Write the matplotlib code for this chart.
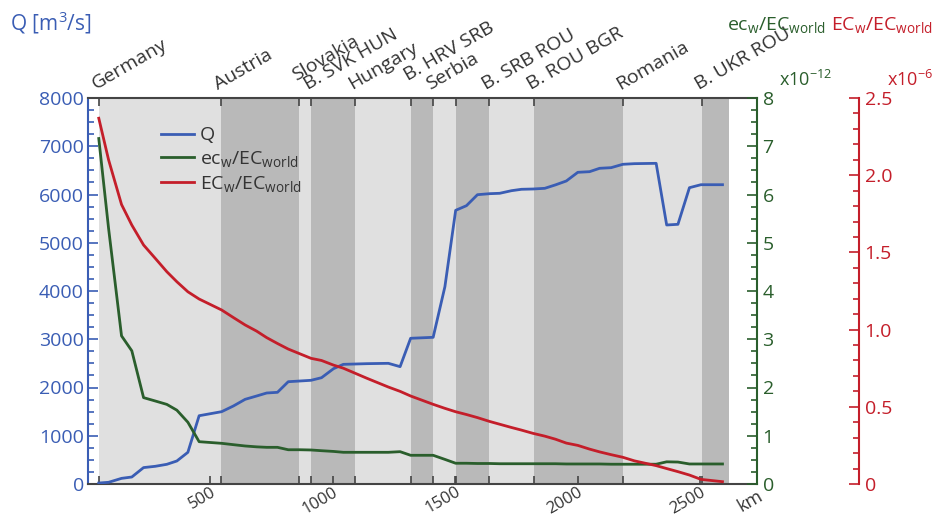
import matplotlib.pyplot as plt
from matplotlib.ticker import MultipleLocator, FixedLocator

plt.rcParams['font.family'] = ['Open Sans', 'DejaVu Sans']
plt.rcParams['mathtext.fontset'] = 'custom'
plt.rcParams['mathtext.rm'] = 'Open Sans'
plt.rcParams['mathtext.it'] = 'Open Sans:italic'
plt.rcParams['mathtext.bf'] = 'Open Sans:bold'

# river km along the Danube
km = [44, 84, 137, 179, 227, 275, 322, 363, 408, 454, 546, 594, 642, 689, 730,
      774, 818, 866, 911, 954, 1003, 1043, 1139, 1227, 1275, 1318, 1410, 1458,
      1502, 1546, 1591, 1641, 1682, 1730, 1771, 1818, 1866, 1910, 1954, 2001,
      2049, 2090, 2137, 2185, 2232, 2321, 2364, 2410, 2457, 2504, 2592]
# discharge Q [m3/s]
q = [20, 35, 117, 145, 340, 367, 408, 477, 657, 1415, 1499, 1617, 1755, 1824,
     1886, 1900, 2120, 2135, 2149, 2203, 2390, 2480, 2494, 2501, 2432, 3020,
     3040, 4089, 5672, 5768, 5996, 6017, 6025, 6079, 6108, 6114, 6128, 6200,
     6280, 6460, 6473, 6543, 6556, 6626, 6639, 6646, 5368, 5382, 6141, 6203, 6203]
# ec_w/EC_world  (x1e-12)
ec_w = [7.16, 5.3, 3.07, 2.76, 1.79, 1.72, 1.65, 1.53, 1.28, 0.877, 0.843, 0.815,
        0.788, 0.77, 0.76, 0.76, 0.71, 0.71, 0.705, 0.69, 0.675, 0.657, 0.657,
        0.657, 0.67, 0.595, 0.595, 0.51, 0.43, 0.43, 0.425, 0.425, 0.42, 0.42,
        0.42, 0.42, 0.42, 0.42, 0.415, 0.415, 0.415, 0.415, 0.41, 0.41, 0.41,
        0.41, 0.46, 0.455, 0.415, 0.415, 0.415]
# EC_w/EC_world  (x1e-6)
EC_w = [2.369, 2.10, 1.81, 1.677, 1.548, 1.461, 1.375, 1.31, 1.245, 1.198,
        1.127, 1.078, 1.03, 0.99, 0.948, 0.91, 0.874, 0.843, 0.814, 0.80, 0.77,
        0.75, 0.685, 0.628, 0.60, 0.57, 0.516, 0.49, 0.468, 0.45, 0.43, 0.405,
        0.387, 0.366, 0.349, 0.328, 0.31, 0.29, 0.265, 0.25, 0.226, 0.208, 0.19,
        0.173, 0.15, 0.119, 0.10, 0.08, 0.058, 0.03, 0.015]

# country / border stretches (km)
borders = [43, 545, 863, 912, 1092, 1320, 1410, 1504, 1639, 1822, 2186, 2508, 2618]
label_km = [43, 545, 863, 912, 1092, 1320, 1410, 1639, 1822, 2186, 2508]
labels = ['Germany', 'Austria', 'Slovakia', 'B. SVK HUN', 'Hungary', 'B. HRV SRB',
          'Serbia', 'B. SRB ROU', 'B. ROU BGR', 'Romania', 'B. UKR ROU']
raised = ['Slovakia', 'B. HRV SRB']

blue = '#3a5db4'
green = '#2a5e2c'
red = '#c41e2a'
grey = '#444444'
txt = '#333333'

fig = plt.figure(figsize=(9.37, 5.2), dpi=100)
ax = fig.add_axes([88 / 937, 1 - 484 / 520, 669 / 937, 386 / 520])
ax2 = ax.twinx()
ax3 = ax.twinx()

for i in range(len(borders) - 1):
    c = '#e0e0e0' if i % 2 == 0 else '#b9b9b9'
    ax.axvspan(borders[i], borders[i + 1], color=c, lw=0, zorder=0)

l1, = ax.plot(km, q, color=blue, lw=2, zorder=3)
l2, = ax2.plot(km, ec_w, color=green, lw=2)
l3, = ax3.plot(km, EC_w, color=red, lw=2)

ax.set_xlim(0, 2733)
ax.set_ylim(0, 8000)
ax2.set_ylim(0, 8)
ax3.set_ylim(0, 2.5)

# x axis
ax.xaxis.set_major_locator(FixedLocator([500, 1000, 1500, 2000, 2500]))
ax.xaxis.set_minor_locator(FixedLocator(borders[:-1]))
ax.set_xticklabels(['500', '1000', '1500', '2000', '2500'], rotation=30,
                   ha='right', va='top', rotation_mode='anchor', color=txt, fontsize=12)
ax.tick_params(axis='x', which='both', direction='in', length=6, width=1.2,
               color=grey, pad=0)
ax.tick_params(axis='x', which='minor', top=True)
ax.annotate('km', xy=(1.0, 0), xycoords='axes fraction', xytext=(0, -3),
            textcoords='offset pixels', rotation=30, rotation_mode='anchor',
            ha='right', va='top', fontsize=13, color=txt)
for k, t in zip(label_km, labels):
    dy = 17 if t in raised else 8
    ax.annotate(t, xy=(k, 1), xycoords=('data', 'axes fraction'), xytext=(-3, dy),
                textcoords='offset pixels', rotation=30, rotation_mode='anchor',
                ha='left', va='baseline', fontsize=14, color=txt)

# left axis (Q)
ax.yaxis.set_major_locator(MultipleLocator(1000))
ax.yaxis.set_minor_locator(MultipleLocator(250))
ax.tick_params(axis='y', which='both', direction='in', color=blue, labelcolor=blue,
               labelsize=14, width=1.2, pad=3)
ax.tick_params(axis='y', which='major', length=7)
ax.tick_params(axis='y', which='minor', length=4)
ax.spines['left'].set_color(blue)
ax.spines['left'].set_linewidth(1.5)
for s in ['top', 'bottom']:
    ax.spines[s].set_color(grey)
    ax.spines[s].set_linewidth(1.5)
ax.spines['right'].set_visible(False)

# green axis
ax2.yaxis.set_major_locator(MultipleLocator(1))
ax2.yaxis.set_minor_locator(MultipleLocator(0.25))
ax2.tick_params(axis='y', which='both', direction='in', color=green,
                labelcolor=green, labelsize=14, width=1.2, pad=4)
ax2.tick_params(axis='y', which='major', length=7)
ax2.tick_params(axis='y', which='minor', length=4)
ax2.spines['right'].set_color(green)
ax2.spines['right'].set_linewidth(1.5)
for s in ['top', 'bottom', 'left']:
    ax2.spines[s].set_visible(False)

# red axis
ax3.spines['right'].set_position(('axes', (859 - 88) / 669))
ax3.yaxis.set_minor_locator(MultipleLocator(0.1))
ax3.set_yticks([0, 0.5, 1.0, 1.5, 2.0, 2.5])
ax3.set_yticklabels(['0', '0.5', '1.0', '1.5', '2.0', '2.5'])
ax3.tick_params(axis='y', which='both', direction='in', color=red,
                labelcolor=red, labelsize=14, width=1.2, pad=4)
ax3.tick_params(axis='y', which='major', length=7)
ax3.tick_params(axis='y', which='minor', length=4)
ax3.spines['right'].set_color(red)
ax3.spines['right'].set_linewidth(1.5)
for s in ['top', 'bottom', 'left']:
    ax3.spines[s].set_visible(False)

# titles over the axes
fig.text(10 / 937, 1 - 30 / 520, 'Q [m$^3$/s]', color=blue, fontsize=15, va='baseline')
fig.text(727 / 937, 1 - 30 / 520, 'ec$_\\mathregular{w}$/EC$_\\mathregular{world}$',
         color=green, fontsize=14, va='baseline')
fig.text(0.996, 1 - 30 / 520, 'EC$_\\mathregular{w}$/EC$_\\mathregular{world}$',
         color=red, fontsize=14, va='baseline', ha='right')
fig.text(779 / 937, 1 - 86 / 520, 'x10$^{-12}$', color=green, fontsize=13, va='baseline')
fig.text(0.996, 1 - 86 / 520, 'x10$^{-6}$', color=red, fontsize=13, va='baseline',
         ha='right')

leg = ax3.legend([l1, l2, l3],
                 ['Q', 'ec$_\\mathregular{w}$/EC$_\\mathregular{world}$',
                  'EC$_\\mathregular{w}$/EC$_\\mathregular{world}$'],
                 loc='upper left', bbox_to_anchor=(0.083, 0.972), frameon=False,
                 fontsize=14, handlelength=1.7, handletextpad=0.3, labelspacing=0.25)
for t in leg.get_texts():
    t.set_color(txt)

fig.savefig('out.png', dpi=100)
